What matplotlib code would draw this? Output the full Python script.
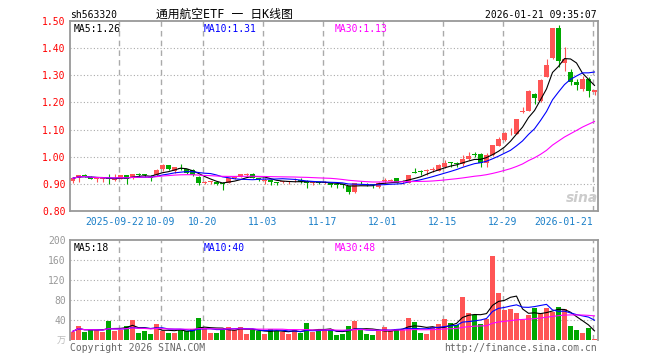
# 通用航空ETF 日K线图 (sina style)
import numpy as np
import pandas as pd
import matplotlib
matplotlib.use('Agg')
import matplotlib.pyplot as plt

# trading days, holidays removed
holidays = ['2025-10-01', '2025-10-02', '2025-10-03', '2025-10-06', '2025-10-07',
            '2025-10-08', '2026-01-01', '2026-01-02']
dias = pd.bdate_range('2025-09-10', '2026-01-21')
dias = dias[~dias.isin(pd.to_datetime(holidays))]

apertura = [0.912, 0.921, 0.932, 0.926, 0.918, 0.917, 0.920, 0.914, 0.919, 0.931,
            0.921, 0.935, 0.933, 0.922, 0.931, 0.953, 0.968, 0.946, 0.957, 0.953,
            0.951, 0.926, 0.905, 0.906, 0.907, 0.904, 0.904, 0.921, 0.926, 0.933,
            0.938, 0.918, 0.912, 0.916, 0.905, 0.906, 0.907, 0.909, 0.913, 0.910,
            0.903, 0.906, 0.905, 0.903, 0.897, 0.898, 0.891, 0.869, 0.903, 0.901,
            0.897, 0.888, 0.910, 0.911, 0.920, 0.908, 0.904, 0.942, 0.946, 0.948,
            0.952, 0.949, 0.963, 0.979, 0.975, 0.973, 0.990, 1.010, 1.010, 0.978,
            1.006, 1.041, 1.061, 1.082, 1.084, 1.166, 1.170, 1.231, 1.205, 1.295,
            1.362, 1.474, 1.344, 1.311, 1.276, 1.248, 1.285, 1.240]
maximo = [0.925, 0.932, 0.936, 0.928, 0.921, 0.921, 0.935, 0.935, 0.932, 0.932,
          0.936, 0.941, 0.938, 0.931, 0.953, 0.972, 0.970, 0.963, 0.975, 0.955,
          0.953, 0.928, 0.910, 0.912, 0.909, 0.907, 0.922, 0.926, 0.938, 0.941,
          0.939, 0.922, 0.920, 0.918, 0.906, 0.912, 0.912, 0.920, 0.920, 0.916,
          0.908, 0.907, 0.912, 0.905, 0.900, 0.900, 0.893, 0.905, 0.910, 0.903,
          0.899, 0.906, 0.922, 0.918, 0.921, 0.916, 0.933, 0.959, 0.950, 0.955,
          0.963, 0.975, 0.988, 0.982, 0.982, 1.006, 1.018, 1.018, 1.012, 1.012,
          1.045, 1.074, 1.090, 1.104, 1.140, 1.182, 1.244, 1.233, 1.285, 1.359,
          1.476, 1.485, 1.403, 1.322, 1.285, 1.297, 1.295, 1.246]
minimo = [0.905, 0.907, 0.924, 0.917, 0.907, 0.906, 0.901, 0.909, 0.917, 0.901,
          0.919, 0.926, 0.926, 0.911, 0.929, 0.947, 0.951, 0.941, 0.950, 0.938,
          0.929, 0.896, 0.898, 0.900, 0.897, 0.878, 0.902, 0.918, 0.924, 0.929,
          0.920, 0.910, 0.898, 0.895, 0.895, 0.904, 0.901, 0.908, 0.904, 0.885,
          0.895, 0.898, 0.900, 0.888, 0.885, 0.885, 0.861, 0.867, 0.898, 0.891,
          0.885, 0.885, 0.904, 0.909, 0.903, 0.898, 0.902, 0.940, 0.934, 0.934,
          0.943, 0.947, 0.957, 0.963, 0.961, 0.966, 0.988, 0.998, 0.963, 0.961,
          1.004, 1.039, 1.058, 1.080, 1.082, 1.162, 1.168, 1.193, 1.203, 1.293,
          1.359, 1.332, 1.317, 1.264, 1.246, 1.243, 1.221, 1.227]
cierre = [0.920, 0.931, 0.929, 0.919, 0.919, 0.919, 0.918, 0.919, 0.931, 0.919,
          0.935, 0.933, 0.932, 0.921, 0.951, 0.968, 0.953, 0.962, 0.955, 0.941,
          0.931, 0.904, 0.906, 0.908, 0.899, 0.899, 0.921, 0.923, 0.936, 0.935,
          0.922, 0.917, 0.916, 0.907, 0.904, 0.908, 0.909, 0.911, 0.908, 0.904,
          0.906, 0.904, 0.907, 0.897, 0.896, 0.894, 0.869, 0.904, 0.902, 0.895,
          0.896, 0.904, 0.913, 0.913, 0.904, 0.910, 0.931, 0.941, 0.944, 0.950,
          0.954, 0.968, 0.978, 0.977, 0.973, 0.990, 1.002, 1.008, 0.978, 1.006,
          1.043, 1.065, 1.086, 1.085, 1.138, 1.170, 1.242, 1.215, 1.283, 1.338,
          1.474, 1.354, 1.359, 1.276, 1.264, 1.285, 1.242, 1.246]
# volumen en 万
volumen = [17, 28, 17, 20, 20, 17, 39, 19, 21, 28,
           40, 15, 19, 12, 32, 19, 15, 15, 21, 18,
           22, 44, 24, 15, 15, 21, 27, 20, 27, 12,
           21, 18, 12, 23, 19, 16, 13, 20, 15, 34,
           16, 20, 20, 21, 10, 13, 28, 39, 20, 13,
           10, 20, 27, 19, 22, 20, 44, 36, 14, 12,
           27, 32, 42, 34, 31, 86, 54, 50, 32, 42,
           168, 94, 60, 63, 54, 40, 50, 65, 55, 64,
           56, 67, 63, 28, 20, 15, 25, 3]

etiquetas = ['2025-09-22', '10-09', '10-20', '11-03', '11-17', '12-01', '12-15', '12-29', '2026-01-21']
fechas_eti = ['2025-09-22', '2025-10-09', '2025-10-20', '2025-11-03', '2025-11-17',
              '2025-12-01', '2025-12-15', '2025-12-29', '2026-01-21']

rojo = '#ff5555'
verde = '#00a800'

o = np.array(apertura)
h = np.array(maximo)
l = np.array(minimo)
c = np.array(cierre)
v = np.array(volumen)
x = np.arange(len(dias))
col = np.where(c >= o, rojo, verde)

ma = {n: pd.Series(c).rolling(n, min_periods=1).mean() for n in (5, 10, 30)}
mav = {n: pd.Series(v).rolling(n, min_periods=1).mean() for n in (5, 10, 30)}
ma_col = {5: 'black', 10: '#0000ff', 30: '#ff00ff'}

pos = [dias.get_loc(pd.Timestamp(f)) - 0.3 for f in fechas_eti]

mono = 'DejaVu Sans Mono'
fig = plt.figure(figsize=(6.6, 3.6), dpi=100)
ax = fig.add_axes([70/660, 149/360, 527.5/660, 190/360])
axv = fig.add_axes([70/660, 20/360, 527.5/660, 100/360])

# velas
ax.vlines(x, l, h, color=col, lw=0.8)
cuerpo = np.maximum(np.abs(c - o), 0.003)
ax.bar(x, cuerpo, width=0.72, bottom=np.minimum(o, c), color=col, linewidth=0)
for n in (5, 10, 30):
    ax.plot(x, ma[n], color=ma_col[n], lw=0.8)

# volumen
axv.bar(x, v, width=0.75, color=col, linewidth=0)
for n in (5, 10, 30):
    axv.plot(x, mav[n], color=ma_col[n], lw=0.8)

for a in (ax, axv):
    a.set_xlim(-0.42, 87.5)
    a.set_xticks([])
    for p in pos:
        a.axvline(p, color='#aaaaaa', lw=1, ls=(0, (4, 3)), zorder=0)
    for s in a.spines.values():
        s.set_color('#999999')
        s.set_linewidth(1.3)
    a.tick_params(axis='y', length=0, pad=3, labelsize=7)

ax.set_ylim(0.80, 1.50)
ax.set_yticks(np.arange(0.8, 1.51, 0.1))
ax.set_yticklabels(['%.2f' % t for t in np.arange(0.8, 1.51, 0.1)], family=mono, color='red')
for yy in np.arange(0.9, 1.45, 0.1):
    ax.axhline(yy, color='#aaaaaa', lw=0.8, ls=(0, (1, 2)), zorder=0)

axv.set_ylim(0, 200)
axv.set_yticks([40, 80, 120, 160, 200])
axv.set_yticklabels(['40', '80', '120', '160', '200'], family=mono, color='#999999')
axv.spines['bottom'].set_visible(False)
for yy in (40, 80, 120, 160):
    axv.axhline(yy, color='#aaaaaa', lw=0.8, ls=(0, (1, 2)), zorder=0)

# etiquetas de fecha
for i, (p, e) in enumerate(zip(pos, etiquetas)):
    ha = 'center'
    dx = 0
    if i == 0:
        dx = -0.7
    if i == len(etiquetas) - 1:
        ha = 'right'
    ax.text(p + dx, -0.033, e, transform=ax.get_xaxis_transform(), ha=ha, va='top',
            family=mono, fontsize=7, color='#1a7fc8')

# leyendas MA
xs = [4/527.5, 134/527.5, 265/527.5]
for xx, n in zip(xs, (5, 10, 30)):
    ax.text(xx, 1 - 3/190, 'MA%d:%.2f' % (n, ma[n].iloc[-1]), transform=ax.transAxes,
            va='top', family=mono, fontsize=7, color=ma_col[n])
    axv.text(xx, 1 - 3/100, 'MA%d:%d' % (n, round(mav[n].iloc[-1])), transform=axv.transAxes,
             va='top', family=mono, fontsize=7, color=ma_col[n])

fig.text(70/660, 1 - 18/360, 'sh563320', family=mono, fontsize=7, va='baseline')
fig.text(224/660, 1 - 18/360, '通用航空ETF 一 日K线图', family=[mono, 'Noto Sans CJK SC'],
         fontsize=8.5, ha='center', va='baseline')
fig.text(597/660, 1 - 18/360, '2026-01-21 09:35:07', family=mono, fontsize=7,
         ha='right', va='baseline')
fig.text(70/660, 1 - 351/360, 'Copyright 2026 SINA.COM', family=mono, fontsize=7,
         color='#666666', va='baseline')
fig.text(597/660, 1 - 351/360, 'http://finance.sina.com.cn', family=mono, fontsize=7,
         color='#666666', ha='right', va='baseline')
fig.text(66/660, 1 - 344/360, '万', family='Noto Sans CJK SC', fontsize=6.5,
         color='#bbbbbb', ha='right', va='baseline')
fig.text(582/660, 1 - 198/360, 'sina', style='italic', weight='bold', fontsize=10,
         color='#cccccc', ha='center', va='center')

fig.savefig('out.png', dpi=100)
